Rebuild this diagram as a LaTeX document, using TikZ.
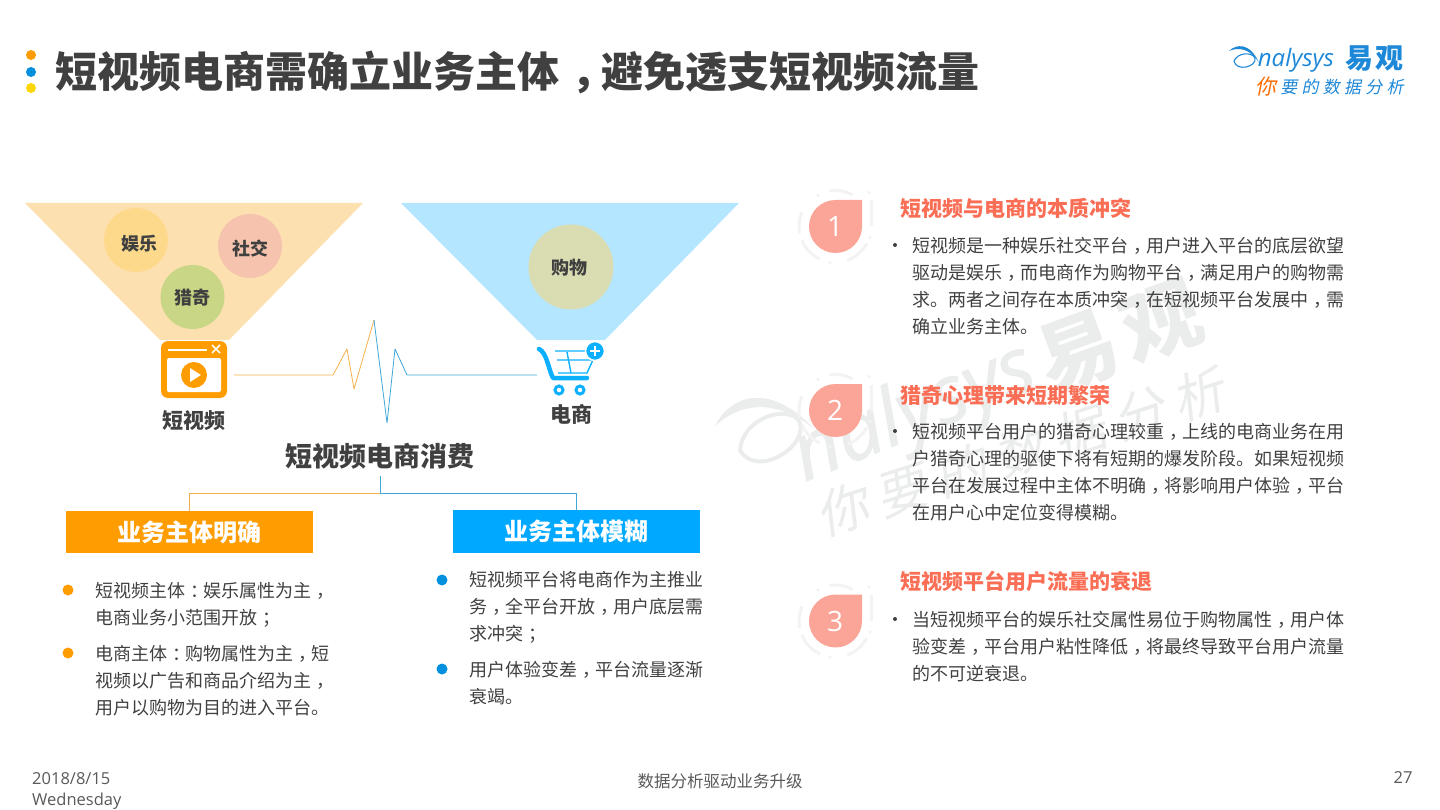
\documentclass[tikz,border=0pt]{standalone}
\usepackage{fontspec}
\setmainfont{Noto Sans CJK SC}
\newfontfamily\latinfont{Open Sans}
\newfontfamily\marklatin[FakeBold=1.2]{Open Sans}
\newfontfamily\slantfont[FakeSlant=0.2]{Noto Sans CJK SC}
\newcommand*\fs[2]{\fontsize{#1}{#2}\selectfont}
\newcommand*\pu[1]{\hspace{.3em}#1\hspace{-.3em}}
\definecolor{ink}{HTML}{404040}
\definecolor{footgray}{HTML}{595959}
\definecolor{orangemain}{HTML}{FF9C00}
\definecolor{bluemain}{HTML}{0DB0FF}
\definecolor{boxblue}{HTML}{00A8FF}
\definecolor{dotblue}{HTML}{0090DD}
\definecolor{logoblue}{HTML}{1E88D8}
\definecolor{headred}{HTML}{FA6E55}
\definecolor{droppink}{HTML}{FBA498}
\definecolor{ringgray}{HTML}{F3F3F3}
\definecolor{wmgray}{HTML}{EBEDEC}
\definecolor{pulseorange}{HTML}{F5B04A}
\definecolor{pulseblue}{HTML}{3FA6D8}
\definecolor{funnelorange}{HTML}{FDE0B0}
\definecolor{funnelblue}{HTML}{B5E6FF}
\definecolor{funcolor}{HTML}{FDDA8B}
\definecolor{socialcolor}{HTML}{F6C3AE}
\definecolor{curiouscolor}{HTML}{C8D685}
\definecolor{shopcolor}{HTML}{DADCB1}
\newcommand*\swoosh[2]{
  \fill[#1] (-1,-4) .. controls (6,-11) and (20,-13) .. (29,8)
    .. controls (20,-7) and (8,-8) .. (-1,-4) -- cycle;
  \draw[#1,line width=#2] (4,6) .. controls (8,-3) and (22,-3) .. (25,3)
    .. controls (27,12) and (6,17) .. (4,6) -- cycle;}
\tikzset{
  every node/.style={inner sep=0pt,text=ink},
  bubble/.style={font=\fs{18}{18}\bfseries},
  para/.style={anchor=north west,align=left,font=\fs{18}{27}},
  headline/.style={anchor=west,text=headred,font=\fs{21}{21}\bfseries},
  tag/.style={font=\fs{21}{21}\bfseries},
  branch/.style={minimum width=247pt,minimum height=42pt,text=white,font=\fs{24}{24}\bfseries},
  thinline/.style={line width=0.8pt,line join=round},
}
\begin{document}
\begin{tikzpicture}[x=1pt,y=-1pt]
\useasboundingbox (0,0) rectangle (1440,810);
% watermark
\begin{scope}[shift={(722,437)},rotate=20,scale=3.1]
\swoosh{wmgray}{4pt}
\end{scope}
\draw (1120,337) node[rotate=20,text=wmgray,font=\fs{80}{80}\bfseries] (markyi) {易\hspace{8pt}观};
\draw (915,415) node[rotate=22,text=wmgray,font=\fs{80}{80}] (marklatin) {\marklatin\itshape nalysys};
\draw (1020,452) node[rotate=18,text=wmgray,font=\slantfont\fs{52}{52}] (markcn) {\addfontfeature{LetterSpace=20}你要的数据分析};
% title
\fill[orangemain] (31,55) circle (5);
\fill[dotblue] (31,72) circle (5);
\fill[yellow!75!orange] (31,88) circle (5);
\draw (55,72) node[anchor=west,font=\fs{42}{42}\bfseries] (title) {短视频电商需确立业务主体\pu{，}避免透支短视频流量};
% logo
\begin{scope}[shift={(1230,55)}]
\swoosh{logoblue}{1.1pt}
\end{scope}
\draw (1296,60) node[text=logoblue,font=\fs{24}{24}] (logolatin) {\latinfont\itshape nalysys};
\draw (1374,59) node[text=logoblue,font=\fs{28}{28}\bfseries] (logoyi) {易\hspace{2pt}观};
\draw (1266,87) node[text=orange!85!red,font=\slantfont\fs{21}{21}] (logoni) {你};
\draw (1342,87) node[text=logoblue,font=\slantfont\fs{17}{17}] (logoslogan) {\addfontfeature{LetterSpace=25}要的数据分析};
% funnels
\fill[funnelorange] (25,203) -- (363,203) -- (229,340) -- (160,340) -- cycle;
\fill[funnelblue] (401,203) -- (739,203) -- (605,340) -- (537,340) -- cycle;
\fill[funcolor] (136,240) circle (32);
\fill[socialcolor] (250,246) circle (32);
\fill[curiouscolor] (192.5,297) circle (32);
\fill[shopcolor] (571,267) circle (42.5);
\draw (139,244) node[bubble] (fun) {娱乐};
\draw (250,249) node[bubble] (social) {社交};
\draw (192.5,298) node[bubble] (curious) {猎奇};
\draw (569,268) node[bubble] (shop) {购物};
% video icon
\draw (194,369.5) node[rounded corners=7pt,minimum width=66pt,minimum height=57pt,fill=orangemain] (video) {};
\fill[white,rounded corners=2pt] (167,358) rectangle (221,392);
\draw[white,line width=1.6pt] (168,350) -- (207,350);
\draw[white,line width=1.6pt] (212,345) -- (220,353) (220,345) -- (212,353);
\fill[orangemain] (194,375) circle (13);
\fill[white] (190,368) -- (201,375) -- (190,382) -- cycle;
\draw (194,421) node[tag] (videolabel) {短视频};
% cart icon
\draw (537,375) node[minimum size=0pt] (cart) {};
\draw[bluemain,line width=4.5pt,line cap=round,line join=round] (539,349) .. controls (547,353) and (548,368) .. (553,378) -- (587,378);
\draw[bluemain,line width=1.4pt,line join=round] (555,351) -- (597,351) -- (587,373) -- (558,373);
\draw[bluemain,line width=1.4pt] (557,360) -- (593,360) (567,352) -- (571,373);
\draw[bluemain,line width=3pt] (559,390) circle (4) (580,390) circle (4);
\draw[white,line width=1.5pt,fill=bluemain] (595,351) circle (9.5);
\draw[white,line width=1.8pt] (590,351) -- (600,351) (595,346) -- (595,356);
\draw (571,414) node[tag] (cartlabel) {电商};
% pulse
\draw[thinline,pulseorange] ([xshift=7pt,yshift=-5.5pt]video.east) -- (333,375) -- (347,349) -- (354,389) -- (374,320);
\draw[thinline,pulseblue] (374,320) -- (387,423) -- (395,349) -- (407,375) -- (cart);
% split
\draw (380,456) node[minimum height=40pt,font=\fs{27}{27}\bfseries] (consume) {短视频电商消费};
\draw (189.5,532) node[branch,fill=orangemain] (clear) {业务主体明确};
\draw (576.5,531.5) node[branch,minimum height=43pt,fill=boxblue] (blurred) {业务主体模糊};
\coordinate (fork) at (380,493);
\draw[thinline,pulseblue] (consume.south) -- (fork) -| (blurred.north);
\draw[thinline,pulseorange] (fork) -| (clear.north);
% left lists
\fill[orangemain] (68,590) circle (5.5) (68,653) circle (5.5);
\fill[dotblue] (442,580) circle (5.5) (442,669) circle (5.5);
\draw (95,582) node[para] (clearone) {短视频主体\pu{：}娱乐属性为主\pu{，}\\电商业务小范围开放\pu{；}};
\draw (95,645) node[para] (cleartwo) {电商主体\pu{：}购物属性为主\pu{，}短\\视频以广告和商品介绍为主\pu{，}\\用户以购物为目的进入平台。};
\draw (469,571) node[para] (blurredone) {短视频平台将电商作为主推业\\务\pu{，}全平台开放\pu{，}用户底层需\\求冲突\pu{；}};
\draw (469,661) node[para] (blurredtwo) {用户体验变差\pu{，}平台流量逐渐\\衰竭。};
% right column
\foreach \i/\y in {1/226.5,2/410.5,3/621}{
  \begin{scope}[shift={(835,\y)}]
  \foreach \s/\e in {-70/-28,-157/-115,156/191,61/99}
    \draw[ringgray,line width=3pt] (\s:36pt) arc[start angle=\s,end angle=\e,radius=36pt];
  \draw[ringgray,line width=3pt] (36,-26) -- (36,0);
  \fill[ringgray] (34,-34) circle (1.8) (35,11) circle (1.8) (-5,36) circle (1.8) (-17,-31) circle (1.8);
  \end{scope}
  \fill[droppink] (862,\y-26.5) -- (862,\y) arc[start angle=0,end angle=-270,radius=26.5pt] -- cycle;
  \draw (835,\y) node[text=white,font=\latinfont\fs{28}{28}] (num\i) {\i};
}
\draw (900,208) node[headline] (headone) {短视频与电商的本质冲突};
\draw (900,395) node[headline] (headtwo) {猎奇心理带来短期繁荣};
\draw (900,581) node[headline] (headthree) {短视频平台用户流量的衰退};
\fill[ink] (895,245) circle (2) (895,431) circle (2) (895,619) circle (2);
\draw (912,237) node[para] (bodyone) {短视频是一种娱乐社交平台\pu{，}用户进入平台的底层欲望\\驱动是娱乐\pu{，}而电商作为购物平台\pu{，}满足用户的购物需\\求。两者之间存在本质冲突\pu{，}在短视频平台发展中\pu{，}需\\确立业务主体。};
\draw (912,423) node[para] (bodytwo) {短视频平台用户的猎奇心理较重\pu{，}上线的电商业务在用\\户猎奇心理的驱使下将有短期的爆发阶段。如果短视频\\平台在发展过程中主体不明确\pu{，}将影响用户体验\pu{，}平台\\在用户心中定位变得模糊。};
\draw (912,611) node[para] (bodythree) {当短视频平台的娱乐社交属性易位于购物属性\pu{，}用户体\\验变差\pu{，}平台用户粘性降低\pu{，}将最终导致平台用户流量\\的不可逆衰退。};
% footer
\draw (32,772) node[anchor=north west,align=left,text=footgray,font=\latinfont\fs{16.5}{21}] (date) {2018/8/15\\Wednesday};
\draw (720,781) node[text=footgray,font=\fs{16.5}{16.5}] (footer) {数据分析驱动业务升级};
\draw (1403,778) node[text=footgray,font=\latinfont\fs{16.5}{16.5}] (page) {27};
\end{tikzpicture}
\end{document}
